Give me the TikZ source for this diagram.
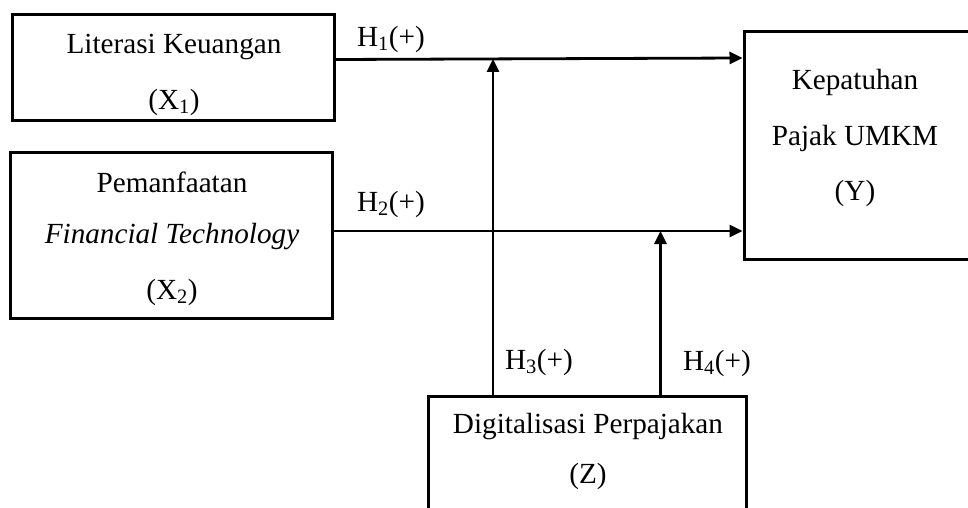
\documentclass[tikz,border=0pt]{standalone}
\usepackage{fontspec}
\setmainfont{Liberation Serif}
\usetikzlibrary{arrows.meta}
\begin{document}
\begin{tikzpicture}[x=1pt,y=-1pt,
  box/.style={draw,line width=3pt},
  lbl/.style={font=\fontsize{29.2}{35}\selectfont,inner sep=0pt,anchor=center},
  arr/.style={line width=2.8pt,-{Triangle[length=13pt,width=12pt]}}]
\useasboundingbox (0,0) rectangle (968,508);
\clip (0,0) rectangle (968,508);
% boxes
\node[box,minimum width=322pt,minimum height=106pt,inner sep=0pt] (x1) at (173.5,67.5) {};
\node[box,minimum width=322pt,minimum height=166pt,inner sep=0pt] (x2) at (171.5,235) {};
\node[box,minimum width=240pt,minimum height=227pt,inner sep=0pt] (y) at (864,145.5) {};
\node[box,minimum width=318pt,minimum height=130pt,inner sep=0pt] (z) at (587,461) {};
% box texts
\node[lbl] (t1a) at (174,47) {Literasi Keuangan};
\node[lbl] (t1b) at (174,102) {(X\textsubscript{1})};
\node[lbl] (t2a) at (172,182) {Pemanfaatan};
\node[lbl] (t2b) at (172,237) {\itshape Financial Technology};
\node[lbl] (t2c) at (172,292) {(X\textsubscript{2})};
\node[lbl] (tya) at (855,82) {Kepatuhan};
\node[lbl] (tyb) at (855,138) {Pajak UMKM};
\node[lbl] (tyc) at (855,193) {(Y)};
\node[lbl] (tza) at (588,427) {Digitalisasi Perpajakan};
\node[lbl] (tzb) at (588,476) {(Z)};
% direct effects
\coordinate (a1) at (x1.east |- 0,59.5);
\coordinate (b1) at (y.west |- 0,58);
\coordinate (a2) at (x2.east |- 0,231);
\coordinate (b2) at (y.west |- 0,231);
\draw[arr] (a1) -- (b1);
\draw[arr] (a2) -- (b2);
% moderating paths
\coordinate (m1) at (493,59);
\coordinate (m2) at (660.5,231);
\draw[arr] (z.north -| m1) -- (m1);
\draw[arr] (z.north -| m2) -- (m2);
% path labels
\node[lbl] (h1) at (391,39) {H\textsubscript{1}(+)};
\node[lbl] (h2) at (391,204) {H\textsubscript{2}(+)};
\node[lbl] (h3) at (539,362) {H\textsubscript{3}(+)};
\node[lbl] (h4) at (717,363) {H\textsubscript{4}(+)};
\end{tikzpicture}
\end{document}
